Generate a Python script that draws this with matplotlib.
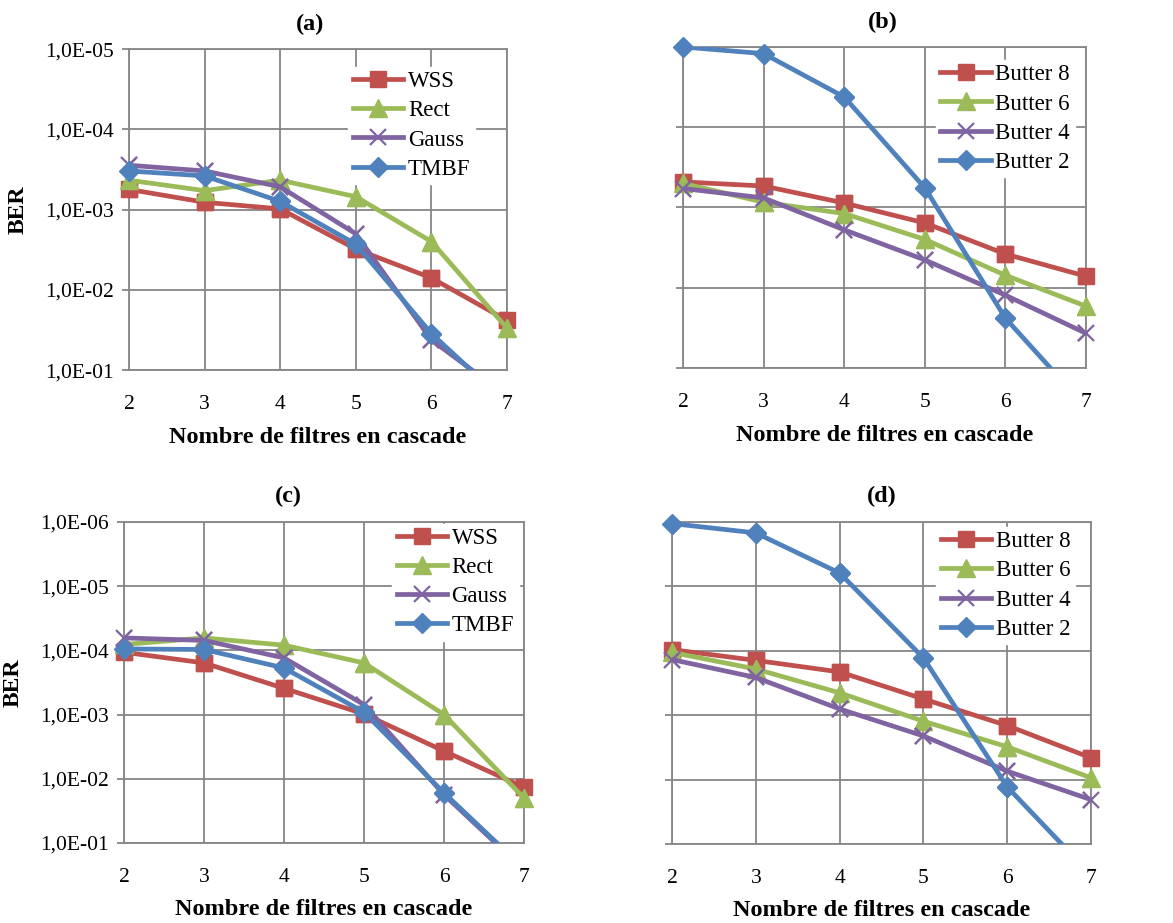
import numpy as np
import matplotlib
matplotlib.use('Agg')
import matplotlib.pyplot as plt
from matplotlib.ticker import FuncFormatter, NullLocator, FixedLocator

plt.rcParams['font.family'] = ['Liberation Serif', 'DejaVu Serif']

# number of filters in cascade
n_filtres = [2, 3, 4, 5, 6, 7]

# (a) filter shapes
a_wss = [5.6e-4, 8.1e-4, 9.8e-4, 3.1e-3, 7.1e-3, 2.4e-2]
a_rect = [4.3e-4, 5.8e-4, 4.3e-4, 6.9e-4, 2.5e-3, 3.0e-2]
a_gauss = [2.8e-4, 3.3e-4, 5.2e-4, 2.0e-3, 4.2e-2, 2.1e-1]
a_tmbf = [3.3e-4, 3.8e-4, 7.9e-4, 2.7e-3, 3.5e-2, 2.6e-1]

# (b) Butterworth orders
b_butter8 = [4.8e-4, 5.4e-4, 8.8e-4, 1.56e-3, 3.8e-3, 7.2e-3]
b_butter6 = [5.0e-4, 8.6e-4, 1.19e-3, 2.5e-3, 7.0e-3, 1.7e-2]
b_butter4 = [5.8e-4, 7.6e-4, 1.9e-3, 4.5e-3, 1.24e-2, 3.7e-2]
b_butter2 = [1.0e-5, 1.21e-5, 4.2e-5, 5.7e-4, 2.4e-2, 3.1e-1]

# (c) filter shapes
c_wss = [1.07e-4, 1.57e-4, 3.9e-4, 9.8e-4, 3.7e-3, 1.36e-2]
c_rect = [8.1e-5, 6.4e-5, 8.3e-5, 1.57e-4, 1.0e-3, 2.0e-2]
c_gauss = [6.4e-5, 7.0e-5, 1.31e-4, 7.0e-4, 1.77e-2, 2.6e-1]
c_tmbf = [9.5e-5, 9.7e-5, 1.88e-4, 9.2e-4, 1.66e-2, 2.5e-1]

# (d) Butterworth orders
d_butter8 = [9.6e-5, 1.41e-4, 2.13e-4, 5.6e-4, 1.45e-3, 4.6e-3]
d_butter6 = [1.06e-4, 1.92e-4, 4.5e-4, 1.24e-3, 3.1e-3, 9.4e-3]
d_butter4 = [1.37e-4, 2.6e-4, 8.0e-4, 2.1e-3, 7.4e-3, 2.05e-2]
d_butter2 = [1.06e-6, 1.48e-6, 6.2e-6, 1.29e-4, 1.30e-2, 3.0e-1]

labels_forme = ['WSS', 'Rect', 'Gauss', 'TMBF']
labels_butter = ['Butter 8', 'Butter 6', 'Butter 4', 'Butter 2']

colors = ['#C0504D', '#9BBB59', '#8064A2', '#4F81BD']
markers = ['s', '^', 'x', 'D']
msizes = [12, 13, 12, 10]

grid_c = '#868686'

fig = plt.figure(figsize=(11.73, 9.23), dpi=100)

panels = [
    # title, series, labels, axes rect, ymin exponent, title x, legend anchor, left column
    ('(a)', [a_wss, a_rect, a_gauss, a_tmbf], labels_forme,
     [0.110, 0.599, 0.3222, 0.3478], -5, 0.48, (0.58, 0.945), True),
    ('(b)', [b_butter8, b_butter6, b_butter4, b_butter2], labels_butter,
     [0.5823, 0.6013, 0.3436, 0.3478], -5, 0.495, (0.627, 0.96), False),
    ('(c)', [c_wss, c_rect, c_gauss, c_tmbf], labels_forme,
     [0.1057, 0.0867, 0.3410, 0.3478], -6, 0.41, (0.67, 0.995), True),
    ('(d)', [d_butter8, d_butter6, d_butter4, d_butter2], labels_butter,
     [0.5729, 0.0856, 0.3572, 0.3489], -6, 0.5, (0.631, 0.985), False),
]

def ber_fmt(v, pos):
    return '1,0E-%02d' % int(round(-np.log10(v)))

for title, series, labels, rect, ymin_exp, tx, leg_pos, left in panels:
    ax = fig.add_axes(rect)
    ax.set_yscale('log')
    ax.set_ylim(1e-1, 10.0 ** ymin_exp)
    ax.set_xlim(2, 7)
    x = np.array(n_filtres)
    for s, lab, col, mk, ms in zip(series, labels, colors, markers, msizes):
        y = np.array(s)
        mew = 1.6 if mk == 'x' else 1
        ax.plot(x, y, color=col, lw=3.4, marker=mk, ms=ms, mew=mew,
                mec=col, mfc=col, label=lab, zorder=3)
        # markers sitting on the frame are not clipped
        inside = (y <= 1e-1) & (y >= 10.0 ** ymin_exp)
        ax.plot(x[inside], y[inside], ls='none', marker=mk, ms=ms, mew=mew,
                mec=col, mfc=col, clip_on=False, zorder=3)

    ax.yaxis.set_major_locator(FixedLocator(10.0 ** np.arange(ymin_exp, 0)))
    ax.yaxis.set_minor_locator(NullLocator())
    ax.xaxis.set_major_locator(FixedLocator(n_filtres))
    ax.grid(True, color=grid_c, lw=1.3)
    ax.set_axisbelow(True)
    for sp in ax.spines.values():
        sp.set_color(grid_c)
        sp.set_linewidth(1.3)
    ax.tick_params(axis='y', direction='out', length=5, width=1.3, color=grid_c,
                   labelsize=15.5, pad=6)
    ax.tick_params(axis='x', length=0, labelsize=15.5, pad=18)
    if left:
        ax.yaxis.set_major_formatter(FuncFormatter(ber_fmt))
        ax.set_ylabel('BER', fontsize=17, fontweight='bold', labelpad=12)
    else:
        ax.set_yticklabels([])
    ax.set_xlabel('Nombre de filtres en cascade', fontsize=17.5, fontweight='bold', labelpad=9)
    ax.set_title(title, fontsize=17.5, fontweight='bold', x=tx, pad=14)

    leg = ax.legend(loc='upper left', bbox_to_anchor=leg_pos, frameon=True,
                    fontsize=16.5, labelspacing=0.35, handlelength=2.2,
                    handletextpad=0.2, borderpad=0.2, borderaxespad=0)
    leg.get_frame().set_facecolor('white')
    leg.get_frame().set_edgecolor('white')
    leg.get_frame().set_alpha(1)
    leg.set_zorder(5)

fig.savefig('out.png', dpi=100)
